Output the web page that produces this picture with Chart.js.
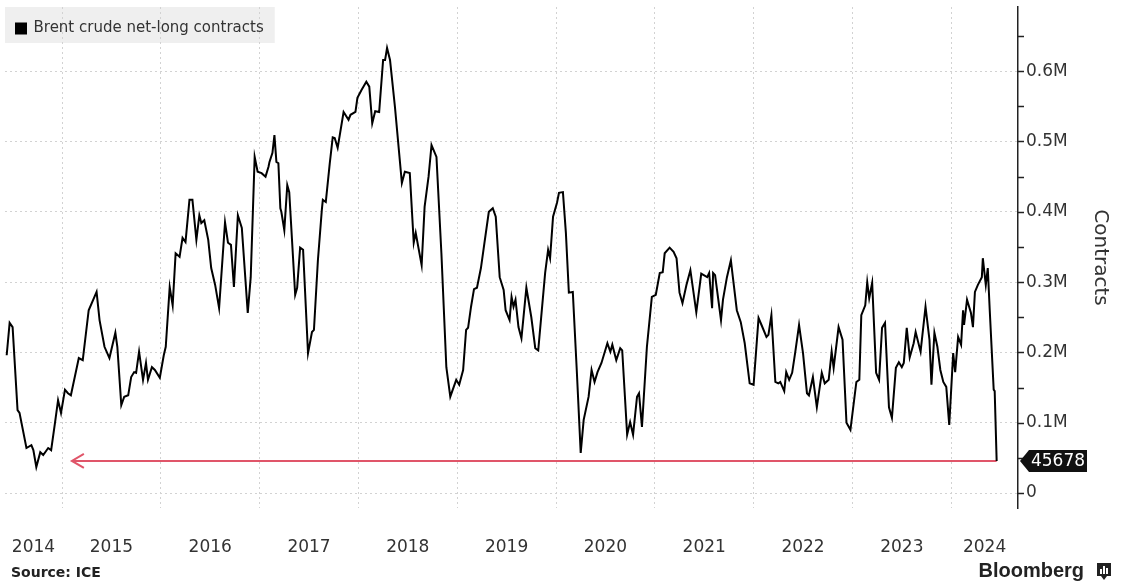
<!DOCTYPE html>
<html>
<head>
<meta charset="UTF-8">
<title>Brent crude net-long contracts</title>
<style>
html, body { margin: 0; padding: 0; background: #fff; }
canvas { display: block; }
</style>
</head>
<body>
<canvas id="brentChart" width="1121" height="582"></canvas>
<script src="https://cdn.jsdelivr.net/npm/chart.js@4.4.1/dist/chart.umd.min.js"></script>
<script>
// weekly reading dates, as decimal years
const dates = [
  2014.44,2014.47,2014.50,2014.55,2014.57,2014.64,2014.69,2014.71,2014.74,2014.78,2014.81,2014.86,2014.89,2014.93,2014.96,2014.99,
  2015.03,2015.06,2015.09,2015.17,2015.21,2015.27,2015.35,2015.38,2015.43,2015.48,2015.54,2015.56,2015.60,2015.63,2015.67,2015.70,2015.73,2015.75,2015.78,2015.82,2015.85,2015.87,2015.91,2015.94,2015.99,
  2016.03,2016.05,2016.09,2016.12,2016.15,2016.19,2016.22,2016.25,2016.29,2016.32,2016.36,2016.39,2016.41,2016.44,2016.48,2016.51,2016.55,2016.59,2016.65,2016.68,2016.71,2016.74,2016.78,2016.82,2016.88,2016.91,2016.95,2016.98,
  2017.02,2017.06,2017.09,2017.10,2017.13,2017.15,2017.17,2017.19,2017.21,2017.22,2017.25,2017.28,2017.30,2017.36,2017.38,2017.41,2017.44,2017.49,2017.53,2017.55,2017.59,2017.63,2017.64,2017.67,2017.71,2017.74,2017.76,2017.79,2017.85,2017.90,2017.92,2017.97,2017.99,
  2018.03,2018.08,2018.11,2018.14,2018.17,2018.21,2018.25,2018.27,2018.29,2018.32,2018.37,2018.44,2018.47,2018.52,2018.56,2018.58,2018.64,2018.67,2018.71,2018.74,2018.79,2018.84,2018.89,2018.93,2018.99,
  2019.02,2019.06,2019.09,2019.11,2019.14,2019.17,2019.20,2019.24,2019.27,2019.32,2019.36,2019.39,2019.43,2019.47,2019.49,2019.53,2019.55,2019.57,2019.59,2019.62,2019.65,2019.70,2019.75,2019.79,2019.82,2019.89,2019.92,2019.94,2019.97,
  2020.01,2020.03,2020.07,2020.10,2020.13,2020.17,2020.21,2020.25,2020.28,2020.33,2020.36,2020.39,2020.42,2020.46,2020.52,2020.55,2020.57,2020.61,2020.65,2020.67,2020.72,2020.75,2020.78,2020.82,2020.84,2020.87,2020.92,2020.97,
  2021.01,2021.05,2021.08,2021.10,2021.15,2021.19,2021.22,2021.25,2021.28,2021.32,2021.36,2021.42,2021.47,2021.53,2021.55,2021.58,2021.59,2021.61,2021.67,2021.69,2021.73,2021.77,2021.79,2021.83,2021.87,2021.91,2021.96,
  2022.00,2022.05,2022.08,2022.13,2022.15,2022.18,2022.22,2022.25,2022.27,2022.31,2022.33,2022.36,2022.39,2022.42,2022.46,2022.50,2022.54,2022.56,2022.60,2022.64,2022.69,2022.72,2022.76,2022.79,2022.81,2022.86,2022.90,2022.94,2022.98,
  2023.04,2023.07,2023.09,2023.13,2023.15,2023.17,2023.20,2023.24,2023.27,2023.30,2023.33,2023.37,2023.40,2023.44,2023.47,2023.50,2023.52,2023.55,2023.58,2023.62,2023.64,2023.69,2023.74,2023.78,2023.80,2023.83,2023.86,2023.89,2023.92,2023.95,2023.98,
  2024.02,2024.04,2024.07,2024.10,2024.12,2024.13,2024.16,2024.20,2024.22,2024.24,2024.27,2024.31,2024.32,2024.35,2024.37,2024.39,2024.43,2024.44,2024.46
];
// net-long positions, thousands of contracts
const netLongK = [
  196,242,236,118,114,64,68,61,37,58,54,64,61,101,132,114,
  147,142,139,192,189,260,286,246,208,192,228,208,125,137,139,165,172,171,201,161,185,161,179,175,164,
  196,208,293,267,341,336,363,357,417,417,360,395,384,388,360,320,296,263,385,356,353,293,395,377,256,307,478,457,
  455,450,464,471,484,509,471,469,405,400,374,438,428,282,292,349,346,199,229,232,331,403,417,414,469,506,505,491,542,531,538,542,562,
  573,585,578,526,543,542,616,616,633,616,549,441,457,455,356,370,324,407,450,495,478,341,179,137,161,
  154,175,232,235,265,290,292,320,350,400,405,393,307,289,260,246,279,265,275,236,220,292,250,206,203,313,346,334,393,
  413,427,428,370,285,286,175,57,104,137,175,158,172,185,213,201,211,189,206,203,83,101,83,137,142,94,208,279,
  282,313,314,341,349,343,334,285,270,296,317,257,312,307,313,263,313,310,246,275,307,331,307,260,243,213,156,
  154,249,239,222,225,253,158,156,158,145,172,161,171,199,239,199,142,139,165,122,171,156,161,201,178,236,218,100,90,
  158,161,253,267,300,277,299,171,161,235,242,122,107,178,186,179,185,235,193,213,229,201,265,218,154,228,208,175,158,151,97,
  199,172,222,211,260,239,275,256,236,286,296,307,334,296,320,260,147,145,45.678
];
const yearStarts = [2015,2016,2017,2018,2019,2020,2021,2022,2023,2024];
const yTickValues = [0,50,100,150,200,250,300,350,400,450,500,550,600,650];
const xMin = 2014.423, xMax = 2024.676;
const yMin = -21.3, yMax = 691.3;
const arrowTo = 2015.10;   // where the red arrow points back to

const lastK = netLongK[netLongK.length - 1];
const lastDate = dates[dates.length - 1];

const extras = {
  id: 'extras',
  afterLayout(chart) {
    // push the in-plot legend down a little
    chart.legend.top += 10;
    chart.legend.bottom += 10;
  },
  beforeDraw(chart) {
    // grey panel behind the legend
    const ctx = chart.ctx;
    const area = chart.chartArea;
    const hb = chart.legend.legendHitBoxes[0];
    if (!hb) return;
    ctx.save();
    ctx.fillStyle = '#efefef';
    ctx.fillRect(area.left, area.top, hb.left + hb.width + 11 - area.left, 36);
    ctx.restore();
  },
  beforeDatasetsDraw(chart) {
    // red arrow from the latest reading back to late 2014
    const {ctx, scales} = chart;
    const y = scales.y.getPixelForValue(lastK);
    const x0 = scales.x.getPixelForValue(lastDate);
    const x1 = scales.x.getPixelForValue(arrowTo);
    ctx.save();
    ctx.strokeStyle = '#e05569';
    ctx.lineWidth = 2;
    ctx.beginPath();
    ctx.moveTo(x0, y);
    ctx.lineTo(x1, y);
    ctx.moveTo(x1 + 12, y - 7);
    ctx.lineTo(x1, y);
    ctx.lineTo(x1 + 12, y + 7);
    ctx.stroke();
    ctx.restore();
  },
  afterDraw(chart) {
    const {ctx, scales, chartArea} = chart;
    const ys = scales.y;
    ctx.save();
    // small tick marks on the right axis
    ctx.strokeStyle = '#222';
    ctx.lineWidth = 1.5;
    ys.ticks.forEach(t => {
      const py = Math.round(ys.getPixelForValue(t.value)) + 0.5;
      ctx.beginPath();
      ctx.moveTo(chartArea.right, py);
      ctx.lineTo(chartArea.right + 6, py);
      ctx.stroke();
    });

    // black tag with the latest value
    const ty = ys.getPixelForValue(lastK);
    const tx = chartArea.right + 2;
    ctx.fillStyle = '#111';
    ctx.beginPath();
    ctx.moveTo(tx, ty);
    ctx.lineTo(tx + 9, ty - 11);
    ctx.lineTo(tx + 67, ty - 11);
    ctx.lineTo(tx + 67, ty + 11);
    ctx.lineTo(tx + 9, ty + 11);
    ctx.closePath();
    ctx.fill();
    ctx.fillStyle = '#fff';
    ctx.font = '17px "DejaVu Sans"';
    ctx.textAlign = 'center';
    ctx.textBaseline = 'middle';
    ctx.fillText(String(Math.round(lastK * 1000)), tx + 38, ty + 1);

    // footer
    ctx.fillStyle = '#222';
    ctx.textBaseline = 'alphabetic';
    ctx.textAlign = 'left';
    ctx.font = 'bold 14px "DejaVu Sans"';
    ctx.fillText('Source: ICE', 11, 577);
    ctx.textAlign = 'right';
    ctx.font = 'bold 20px "Liberation Sans"';
    ctx.fillText('Bloomberg', 1084, 577);
    // bloomberg mark
    ctx.fillStyle = '#222';
    ctx.fillRect(1097, 563, 14, 13);
    ctx.beginPath();
    ctx.moveTo(1101, 576);
    ctx.lineTo(1104, 580);
    ctx.lineTo(1107, 576);
    ctx.fill();
    ctx.fillStyle = '#fff';
    ctx.fillRect(1100, 569, 2, 5);
    ctx.fillRect(1103, 566, 2, 8);
    ctx.fillRect(1106, 568, 2, 6);
    ctx.restore();
  }
};

const ctx = document.getElementById('brentChart');
const chart = new Chart(ctx, {
  type: 'line',
  data: {
    datasets: [{
      label: 'Brent crude net-long contracts',
      data: dates.map((d, i) => ({x: d, y: netLongK[i]})),
      borderColor: '#000',
      backgroundColor: '#000',
      borderWidth: 2,
      pointRadius: 0,
      tension: 0,
      fill: false
    }]
  },
  options: {
    responsive: false,
    animation: false,
    devicePixelRatio: 1,
    layout: { padding: { left: 5, top: 7, right: 0, bottom: 25 } },
    plugins: {
      legend: {
        position: 'chartArea',
        align: 'start',
        labels: {
          boxWidth: 10,
          boxHeight: 10,
          color: '#333',
          font: { family: 'DejaVu Sans', size: 15 },
          padding: 11
        }
      },
      tooltip: { enabled: false }
    },
    scales: {
      x: {
        type: 'linear',
        min: xMin,
        max: xMax,
        afterBuildTicks: scale => {
          const t = yearStarts.map(v => ({value: v}));
          // one label in the middle of the visible part of each year
          for (let yr = Math.floor(xMin); yr <= Math.floor(xMax); yr++) {
            const a = Math.max(yr, xMin), b = Math.min(yr + 1, xMax);
            t.push({value: (a + b) / 2});
          }
          scale.ticks = t.sort((p, q) => p.value - q.value);
        },
        afterFit: scale => {
          scale.height = 49;
          scale.paddingLeft = 0;
          scale.paddingRight = 0;
        },
        grid: {
          color: c => (c.tick && Number.isInteger(c.tick.value)) ? '#d2d2d2' : 'rgba(0,0,0,0)',
          drawTicks: false,
          lineWidth: 1
        },
        border: { display: false, dash: [2, 3] },
        ticks: {
          autoSkip: false,
          maxRotation: 0,
          padding: 29,
          color: '#333',
          font: { family: 'DejaVu Sans', size: 17 },
          callback: v => Number.isInteger(v) ? '' : String(Math.floor(v))
        }
      },
      y: {
        position: 'right',
        min: yMin,
        max: yMax,
        afterBuildTicks: scale => { scale.ticks = yTickValues.map(v => ({value: v})); },
        afterFit: scale => {
          scale.width = 103;
          scale.paddingTop = 0;
          scale.paddingBottom = 0;
        },
        grid: {
          color: c => (c.tick && c.tick.value % 100 === 0) ? '#d2d2d2' : 'rgba(0,0,0,0)',
          drawTicks: false
        },
        border: { display: true, color: '#222', width: 1.5, dash: [2, 3] },
        ticks: {
          padding: 8,
          color: '#333',
          font: { family: 'DejaVu Sans', size: 17 },
          callback: v => v % 100 ? '' : (v === 0 ? '0' : (v / 1000).toFixed(1) + 'M')
        },
        title: {
          display: true,
          text: 'Contracts',
          color: '#333',
          font: { family: 'DejaVu Sans', size: 20 },
          padding: { top: 9, bottom: 0 }
        }
      }
    }
  },
  plugins: [extras]
});
</script>
</body>
</html>
